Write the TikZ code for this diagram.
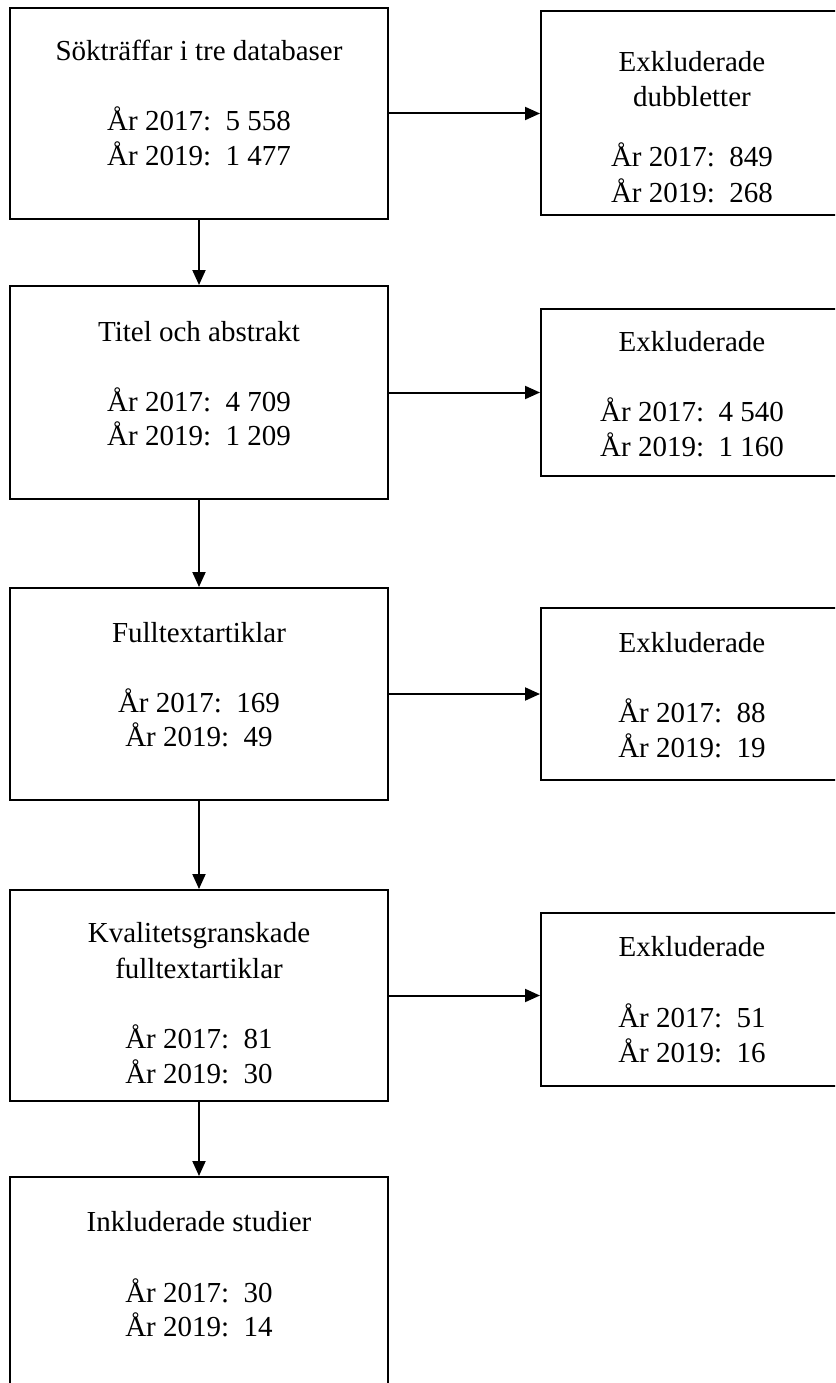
\documentclass[tikz,border=0pt]{standalone}
\usepackage{fontspec}
\setmainfont{Liberation Serif}
\usetikzlibrary{arrows.meta}
\begin{document}
\begin{tikzpicture}[x=1pt,y=-1pt,
  box/.style={draw, line width=2pt, inner sep=0pt, minimum width=378pt},
  rbox/.style={draw, line width=2pt, inner sep=0pt, minimum width=302pt},
  txt/.style={anchor=base, inner sep=0pt, font=\fontsize{29}{34}\selectfont},
  arr/.style={line width=2pt, -{Triangle[length=15pt,width=13pt]}}]
\useasboundingbox (0,0) rectangle (835,1383);
\clip (0,0) rectangle (835,1383);
% left column boxes
\node[box, minimum height=211pt] (b1) at (199,113.5) {};
\node[box, minimum height=213pt] (b2) at (199,392.5) {};
\node[box, minimum height=212pt] (b3) at (199,694) {};
\node[box, minimum height=211pt] (b4) at (199,995.5) {};
\node[box, minimum height=223pt] (b5) at (199,1288.5) {};
% right column boxes
\node[rbox, minimum height=204pt] (r1) at (692,113) {};
\node[rbox, minimum height=167pt] (r2) at (692,392.5) {};
\node[rbox, minimum height=172pt] (r3) at (692,694) {};
\node[rbox, minimum height=173pt] (r4) at (692,999.5) {};
% texts left
\node[txt] (t1a) at (199,61) {Sökträffar i tre databaser};
\node[txt] (t1b) at (199,131) {År 2017:\ \ 5 558};
\node[txt] (t1c) at (199,166) {År 2019:\ \ 1 477};
\node[txt] (t2a) at (199,341) {Titel och abstrakt};
\node[txt] (t2b) at (199,411) {År 2017:\ \ 4 709};
\node[txt] (t2c) at (199,445) {År 2019:\ \ 1 209};
\node[txt] (t3a) at (199,642) {Fulltextartiklar};
\node[txt] (t3b) at (199,712) {År 2017:\ \ 169};
\node[txt] (t3c) at (199,746) {År 2019:\ \ 49};
\node[txt] (t4a) at (199,942) {Kvalitetsgranskade};
\node[txt] (t4b) at (199,978) {fulltextartiklar};
\node[txt] (t4c) at (199,1048) {År 2017:\ \ 81};
\node[txt] (t4d) at (199,1083) {År 2019:\ \ 30};
\node[txt] (t5a) at (199,1231) {Inkluderade studier};
\node[txt] (t5b) at (199,1302) {År 2017:\ \ 30};
\node[txt] (t5c) at (199,1336) {År 2019:\ \ 14};
% texts right
\node[txt] (u1a) at (692,72) {Exkluderade};
\node[txt] (u1b) at (692,107) {dubbletter};
\node[txt] (u1c) at (692,167) {År 2017:\ \ 849};
\node[txt] (u1d) at (692,202) {År 2019:\ \ 268};
\node[txt] (u2a) at (692,351) {Exkluderade};
\node[txt] (u2b) at (692,421) {År 2017:\ \ 4 540};
\node[txt] (u2c) at (692,456) {År 2019:\ \ 1 160};
\node[txt] (u3a) at (692,652) {Exkluderade};
\node[txt] (u3b) at (692,722) {År 2017:\ \ 88};
\node[txt] (u3c) at (692,757) {År 2019:\ \ 19};
\node[txt] (u4a) at (692,956) {Exkluderade};
\node[txt] (u4b) at (692,1027) {År 2017:\ \ 51};
\node[txt] (u4c) at (692,1062) {År 2019:\ \ 16};
% connectors
\draw[arr] (b1.south) -- (b2.north);
\draw[arr] (b2.south) -- (b3.north);
\draw[arr] (b3.south) -- (b4.north);
\draw[arr] (b4.south) -- (b5.north);
\draw[arr] (b1.east) -- (b1.east -| r1.west);
\draw[arr] (b2.east) -- (b2.east -| r2.west);
\draw[arr] (b3.east) -- (b3.east -| r3.west);
\draw[arr] (b4.east) -- (b4.east -| r4.west);
\end{tikzpicture}
\end{document}
